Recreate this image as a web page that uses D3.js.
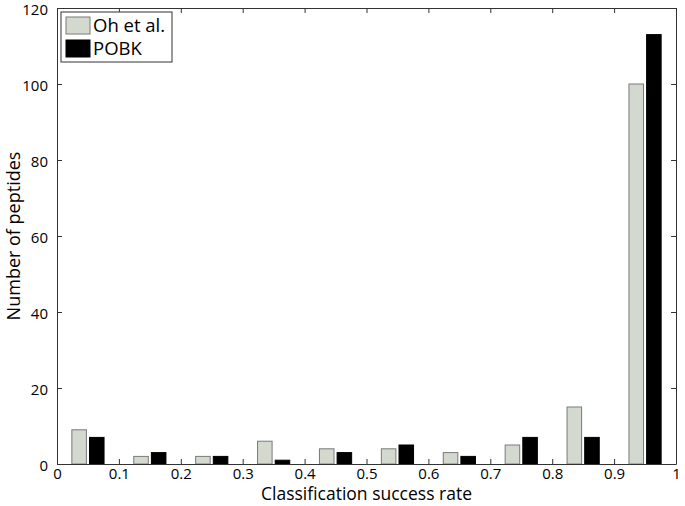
<!DOCTYPE html>
<html>
<head>
<meta charset="utf-8">
<script src="https://cdn.jsdelivr.net/npm/d3@7"></script>
<style>
  body { margin: 0; background: #fff; }
  text { font-family: "Open Sans", "DejaVu Sans", sans-serif; fill: #000; }
</style>
</head>
<body>
<script>
// bin centres and counts
let bins = [0.05, 0.15, 0.25, 0.35, 0.45, 0.55, 0.65, 0.75, 0.85, 0.95]
let ohEtAl = [9, 2, 2, 6, 4, 4, 3, 5, 15, 100]
let pobk = [7, 3, 2, 1, 3, 5, 2, 7, 7, 113]
let seriesNames = ['Oh et al.', 'POBK']
let xTicks = [0, 0.1, 0.2, 0.3, 0.4, 0.5, 0.6, 0.7, 0.8, 0.9, 1]
let yTicks = [0, 20, 40, 60, 80, 100, 120]

var width = 685, height = 506
var mL = 57, mR = 676, mT = 8, mB = 464

var svg = d3.select('body').append('svg')
    .attr('width', width)
    .attr('height', height)

var x = d3.scaleLinear().domain([0, 1]).range([mL, mR])
var y = d3.scaleLinear().domain([0, 120]).range([mB, mT])

var barW = 0.0235, gap = 0.0025
var colors = ['#d4d9cf', '#000']
var strokes = ['#7a7a7a', '#000']

;[ohEtAl, pobk].forEach(function(vals, s) {
    svg.append('g').selectAll('rect')
       .data(vals)
       .join('rect')
       .attr('x', (d, i) => s == 0 ? x(bins[i] - gap - barW) : x(bins[i] + gap))
       .attr('width', x(barW) - x(0))
       .attr('y', d => y(d))
       .attr('height', d => y(0) - y(d))
       .attr('fill', colors[s])
       .attr('stroke', strokes[s])
       .attr('stroke-width', 1)
})

// axes, MATLAB style ticks inside on all four sides
var tl = 5
svg.append('g')
   .attr('transform', 'translate(0,' + mB + ')')
   .call(d3.axisBottom(x).tickValues(xTicks).tickSizeInner(-tl).tickSizeOuter(0).tickPadding(4)
         .tickFormat(d => d == 0 || d == 1 ? d : d3.format('.1f')(d)))
svg.append('g')
   .attr('transform', 'translate(0,' + mT + ')')
   .call(d3.axisTop(x).tickValues(xTicks).tickSizeInner(-tl).tickSizeOuter(0).tickFormat(''))
var yAx = svg.append('g')
   .attr('transform', 'translate(' + mL + ',0)')
   .call(d3.axisLeft(y).tickValues(yTicks).tickSizeInner(-tl).tickSizeOuter(0).tickPadding(9))
yAx.selectAll('.tick text').attr('dy', '0.4em')
svg.append('g')
   .attr('transform', 'translate(' + mR + ',0)')
   .call(d3.axisRight(y).tickValues(yTicks).tickSizeInner(-tl).tickSizeOuter(0).tickFormat(''))

svg.selectAll('.domain').attr('stroke', '#333')
svg.selectAll('.tick line').attr('stroke', '#333')
svg.selectAll('.tick text').style('font-size', '15px').attr('fill', '#000')

svg.append('text')
   .attr('x', (mL + mR) / 2)
   .attr('y', 500)
   .attr('text-anchor', 'middle')
   .style('font-size', '17.5px')
   .text('Classification success rate')

svg.append('text')
   .attr('transform', 'translate(20,' + (mT + mB) / 2 + ') rotate(-90)')
   .attr('text-anchor', 'middle')
   .style('font-size', '18px')
   .text('Number of peptides')

// legend
var lg = svg.append('g').attr('transform', 'translate(61,12)')
lg.append('rect')
  .attr('width', 111).attr('height', 50)
  .attr('fill', '#fff').attr('stroke', '#333')
seriesNames.forEach(function(name, i) {
    lg.append('rect')
      .attr('x', 5).attr('y', 5 + i * 23)
      .attr('width', 24).attr('height', 17)
      .attr('fill', colors[i]).attr('stroke', strokes[i])
    lg.append('text')
      .attr('x', 32).attr('y', 20 + i * 23)
      .style('font-size', '18.5px')
      .text(name)
})
</script>
</body>
</html>
